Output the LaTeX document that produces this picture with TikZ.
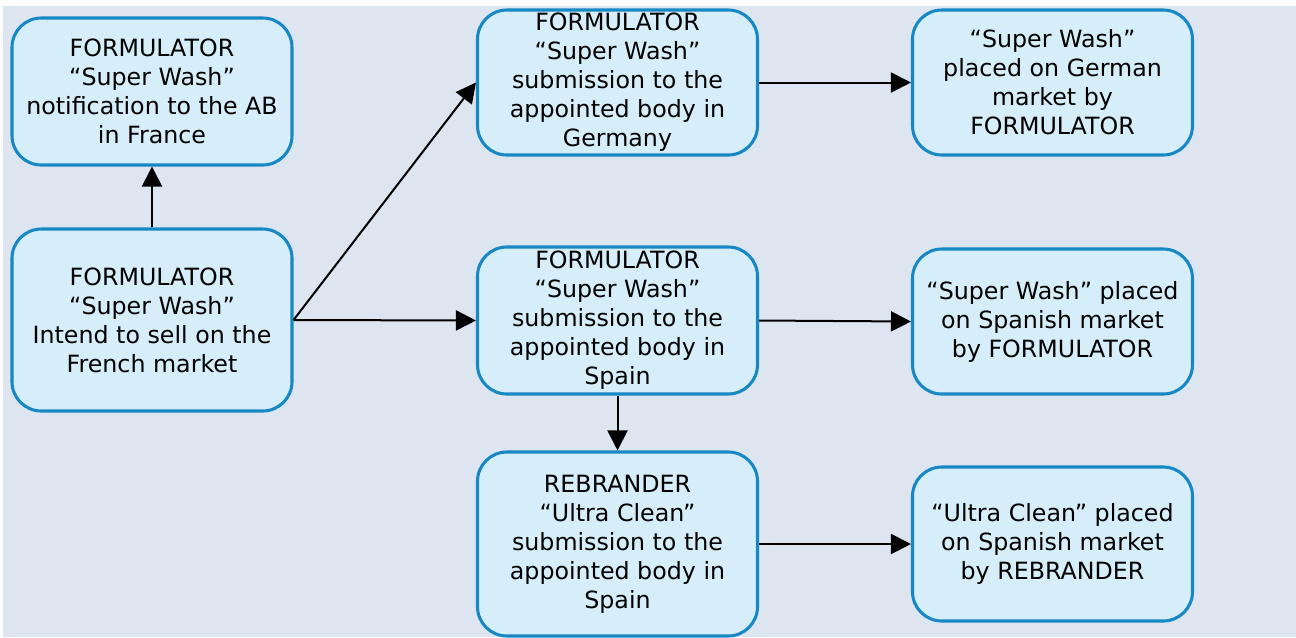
\documentclass[tikz,border=0pt]{standalone}
\usepackage{fontspec}
\setmainfont{DejaVu Sans}
\usetikzlibrary{arrows.meta}

\definecolor{pagebg}{HTML}{DCE5F0}
\definecolor{boxfill}{HTML}{D6EEFA}
\definecolor{boxline}{HTML}{1788C4}

\tikzset{
  stepbox/.style={draw=boxline, fill=boxfill, line width=2.3pt, rounded corners=22pt,
    align=center, inner sep=0pt, minimum width=210pt,
    font=\fontsize{17.8}{21.75}\selectfont},
  flow/.style={-{Triangle[length=15pt, width=15pt]}, line width=1.5pt, black}
}

\begin{document}
\begin{tikzpicture}[x=0.75pt, y=-0.75pt]
\useasboundingbox (0,0) rectangle (1296,637);
\fill[pagebg] (3,6) rectangle (1296,637);

% left column
\node[stepbox, minimum height=110.25pt] (notifyFR) at (152,91.5) {FORMULATOR\\``Super Wash''\\notification to the AB\\in France};
\node[stepbox, minimum height=136.5pt] (intendFR) at (152,320) {FORMULATOR\\``Super Wash''\\Intend to sell on the\\French market};

% middle column
\node[stepbox, minimum height=108.75pt] (submitDE) at (617.5,82.5) {FORMULATOR\\``Super Wash''\\submission to the\\appointed body in\\Germany};
\node[stepbox, minimum height=110.25pt] (submitES) at (617.5,320.5) {FORMULATOR\\``Super Wash''\\submission to the\\appointed body in\\Spain};
\node[stepbox, minimum height=138pt] (rebrandES) at (617.5,544) {REBRANDER\\``Ultra Clean''\\submission to the\\appointed body in\\Spain};

% right column
\node[stepbox, minimum height=108.75pt] (marketDE) at (1052.5,82.5) {``Super Wash''\\placed on German\\market by\\FORMULATOR};
\node[stepbox, minimum height=108.75pt] (marketES) at (1052.5,321.5) {``Super Wash'' placed\\on Spanish market\\by FORMULATOR};
\node[stepbox, minimum height=115.5pt] (marketRB) at (1052.5,544) {``Ultra Clean'' placed\\on Spanish market\\by REBRANDER};

% connectors
\draw[flow] (intendFR.north) -- (notifyFR.south);
\draw[flow] (intendFR.east) -- (submitDE.west);
\draw[flow] (intendFR.east) -- (submitES.west);
\draw[flow] (submitDE.east) -- (marketDE.west);
\draw[flow] (submitES.east) -- (marketES.west);
\draw[flow] (submitES.south) -- (rebrandES.north);
\draw[flow] (rebrandES.east) -- (marketRB.west);
\end{tikzpicture}
\end{document}
